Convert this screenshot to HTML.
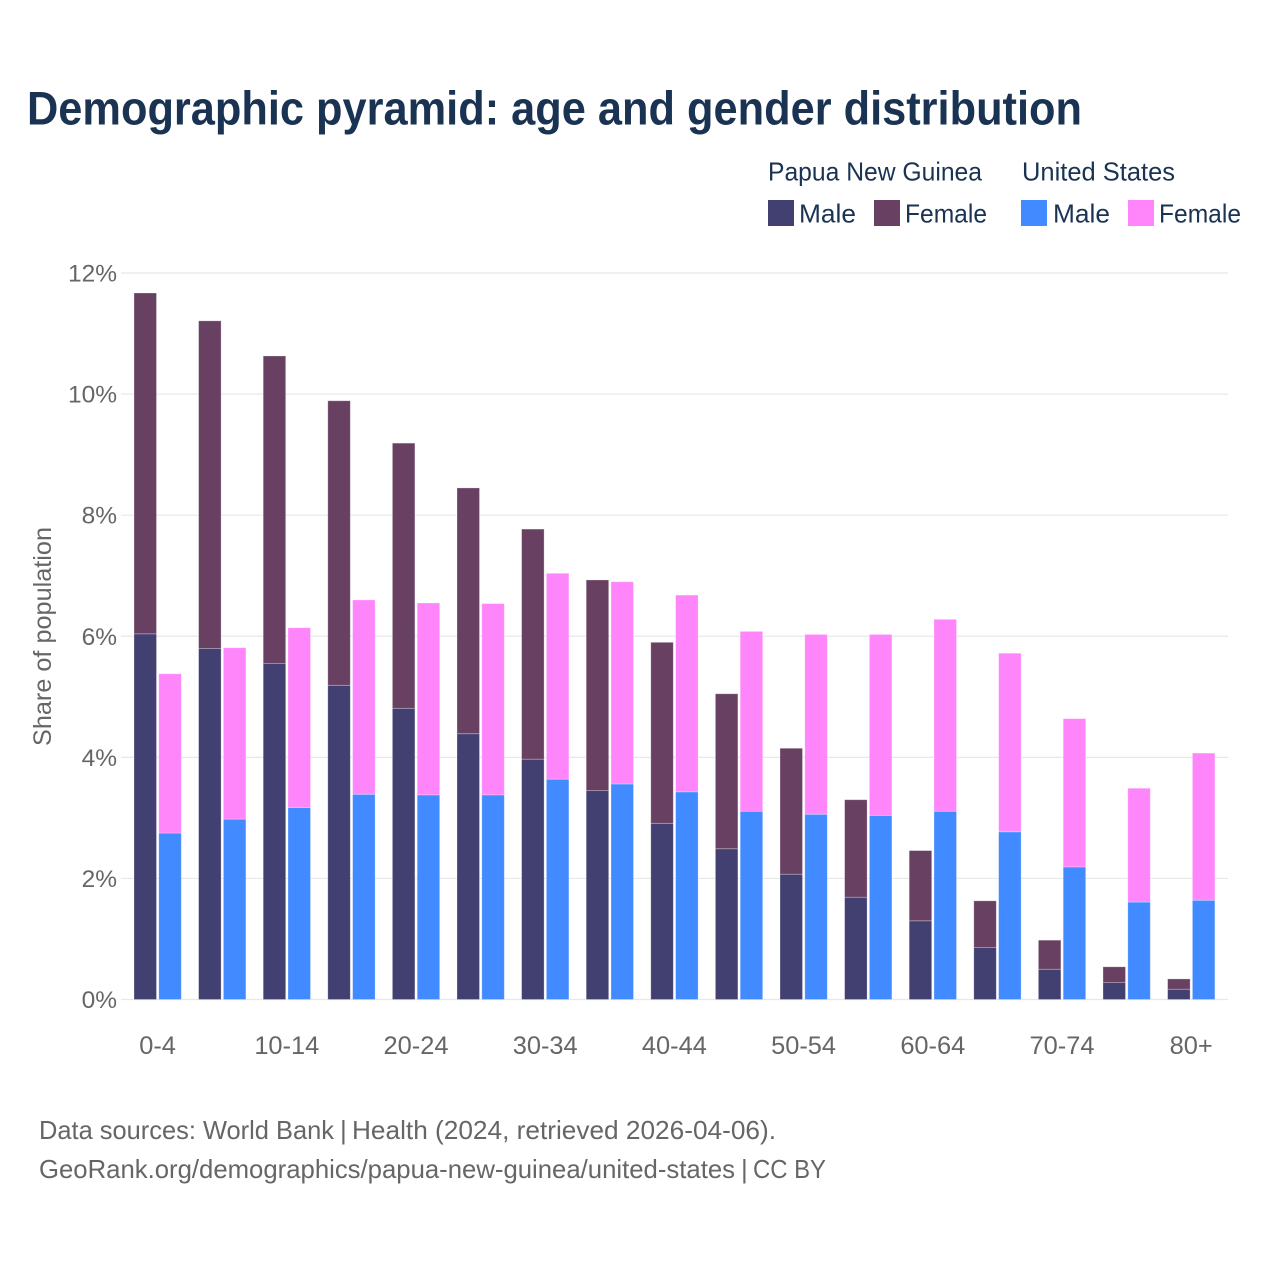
<!DOCTYPE html>
<html lang="en">
<head>
<meta charset="utf-8">
<title>Demographic pyramid: age and gender distribution</title>
<style>
html,body{margin:0;padding:0;background:#fff;width:1280px;height:1280px;overflow:hidden}
svg{display:block}
text{font-family:"Liberation Sans",sans-serif}
</style>
</head>
<body>
<svg id="chart" xmlns="http://www.w3.org/2000/svg" width="1280" height="1280" viewBox="0 0 1280 1280">
  <rect x="0" y="0" width="1280" height="1280" fill="#fff"/>
  <text x="27" y="124.5" font-size="47" font-weight="700" fill="#1a3353" textLength="1055" lengthAdjust="spacingAndGlyphs">Demographic pyramid: age and gender distribution</text>

  <g font-size="26" fill="#1a3353">
    <text x="768" y="180.5" textLength="214" lengthAdjust="spacingAndGlyphs">Papua New Guinea</text>
    <text x="1022" y="180.5" textLength="153" lengthAdjust="spacingAndGlyphs">United States</text>
    <rect x="768" y="200" width="26" height="26" fill="#423f71"/>
    <text x="799" y="222.5" textLength="57" lengthAdjust="spacingAndGlyphs">Male</text>
    <rect x="874" y="200" width="26" height="26" fill="#684162"/>
    <text x="905" y="222.5" textLength="82" lengthAdjust="spacingAndGlyphs">Female</text>
    <rect x="1021" y="200" width="26" height="26" fill="#418aff"/>
    <text x="1053" y="222.5" textLength="57" lengthAdjust="spacingAndGlyphs">Male</text>
    <rect x="1128" y="200" width="26" height="26" fill="#ff85fa"/>
    <text x="1159" y="222.5" textLength="82" lengthAdjust="spacingAndGlyphs">Female</text>
  </g>

  <g id="grid"></g>
  <g id="y-ticks"></g>
  <g id="bars"></g>
  <g id="x-ticks"></g>

  <text transform="translate(51,636.5) rotate(-90)" text-anchor="middle" font-size="25" fill="#666" textLength="219" lengthAdjust="spacingAndGlyphs">Share of population</text>

  <g font-size="26" fill="#666">
    <text x="39" y="1139" textLength="295" lengthAdjust="spacingAndGlyphs">Data sources: World Bank</text>
    <text x="340" y="1139">|</text>
    <text x="352" y="1139" textLength="424" lengthAdjust="spacingAndGlyphs">Health (2024, retrieved 2026-04-06).</text>
  </g>
  <g font-size="26" fill="#666">
    <text x="39" y="1178" textLength="696" lengthAdjust="spacingAndGlyphs">GeoRank.org/demographics/papua-new-guinea/united-states</text>
    <text x="741" y="1178">|</text>
    <text x="753" y="1178" textLength="73" lengthAdjust="spacingAndGlyphs">CC BY</text>
  </g>
</svg>
<script>
const categories = ["0-4","5-9","10-14","15-19","20-24","25-29","30-34","35-39","40-44","45-49","50-54","55-59","60-64","65-69","70-74","75-79","80+"];
const pngMale = [6.04,5.80,5.55,5.19,4.81,4.39,3.97,3.45,2.91,2.49,2.07,1.69,1.30,0.86,0.50,0.28,0.17];
const pngFemale = [5.63,5.41,5.08,4.70,4.38,4.06,3.80,3.48,2.99,2.56,2.08,1.61,1.16,0.77,0.48,0.26,0.17];
const usMale = [2.75,2.98,3.17,3.39,3.38,3.38,3.64,3.56,3.43,3.11,3.06,3.04,3.11,2.77,2.19,1.61,1.64];
const usFemale = [2.63,2.83,2.97,3.21,3.17,3.16,3.40,3.34,3.25,2.97,2.97,2.99,3.17,2.95,2.45,1.88,2.43];
const yTicks = [0,2,4,6,8,10,12];
const xTickEvery = 2;

const NS = "http://www.w3.org/2000/svg";
const yScale = v => 999.5 - v * 60.54;
const groupX = i => 134 + i * 64.6;
const BAR_W = 22.5;
const SECOND_OFFSET = 24.8;
const GRID_L = 121, GRID_R = 1228;

const grid = document.getElementById("grid");
const yTickG = document.getElementById("y-ticks");
yTicks.forEach(t => {
  const line = document.createElementNS(NS, "line");
  
  
  line.setAttribute("x1", GRID_L);
  line.setAttribute("x2", GRID_R);
  line.setAttribute("y1", yScale(t));
  line.setAttribute("y2", yScale(t));
  line.setAttribute("stroke", "#e8e8e8");
  line.setAttribute("stroke-width", "1.2");
  grid.appendChild(line);
  const label = document.createElementNS(NS, "text");
  
  
  label.setAttribute("x", 117);
  label.setAttribute("y", yScale(t) + 8.5);
  label.setAttribute("text-anchor", "end");
  label.setAttribute("font-size", "24.5");
  label.setAttribute("fill", "#666");
  label.textContent = t + "%";
  yTickG.appendChild(label);
});

const barsG = document.getElementById("bars");
function addBar(x, base, value, fill, name) {
  const r = document.createElementNS(NS, "rect");
  
  
  const y0 = yScale(base), y1 = yScale(base + value);
  r.setAttribute("x", x);
  r.setAttribute("y", y1);
  r.setAttribute("width", BAR_W);
  r.setAttribute("height", y0 - y1);
  r.setAttribute("fill", fill);
  r.setAttribute("stroke", "#fff");
  r.setAttribute("stroke-opacity", "0.35");
  r.setAttribute("stroke-width", "0.8");
  barsG.appendChild(r);
}
categories.forEach((c, i) => {
  const x = groupX(i);
  addBar(x, 0, pngMale[i], "#423f71", "bar-png-male");
  addBar(x, pngMale[i], pngFemale[i], "#684162", "bar-png-female");
  addBar(x + SECOND_OFFSET, 0, usMale[i], "#418aff", "bar-us-male");
  addBar(x + SECOND_OFFSET, usMale[i], usFemale[i], "#ff85fa", "bar-us-female");
});

const xTickG = document.getElementById("x-ticks");
categories.forEach((c, i) => {
  if (i % xTickEvery !== 0) return;
  const label = document.createElementNS(NS, "text");
  
  
  label.setAttribute("x", groupX(i) + 23.6);
  label.setAttribute("y", 1054);
  label.setAttribute("text-anchor", "middle");
  label.setAttribute("font-size", "25.4");
  label.setAttribute("fill", "#666");
  label.textContent = c;
  xTickG.appendChild(label);
});
</script>
</body>
</html>
